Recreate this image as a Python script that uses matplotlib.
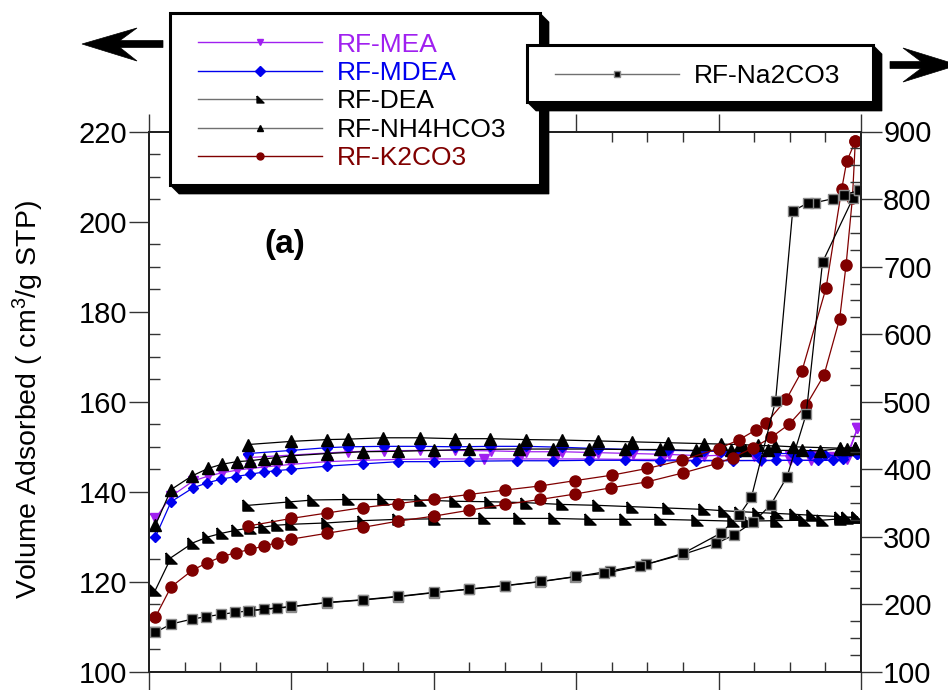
import matplotlib
matplotlib.use('Agg')
import matplotlib.pyplot as plt
from matplotlib.lines import Line2D
from matplotlib.patches import Polygon
from matplotlib.ticker import MultipleLocator

plt.rcParams['font.family'] = ['Liberation Sans', 'DejaVu Sans']
plt.rcParams['mathtext.fontset'] = 'custom'
plt.rcParams['mathtext.rm'] = 'Liberation Sans'
plt.rcParams['mathtext.it'] = 'Liberation Sans:italic'

# ---------------- data (relative pressure P/P0, volume adsorbed) ----------------
mea_ads_x = [0.009, 0.031, 0.062, 0.083, 0.102, 0.123, 0.142, 0.162, 0.180, 0.200, 0.25, 0.30, 0.35, 0.40,
             0.47, 0.52, 0.57, 0.62, 0.67, 0.72, 0.77, 0.82, 0.86, 0.90, 0.93, 0.96, 0.98, 0.995]
mea_ads_y = [134.1, 139.0, 142.4, 143.5, 144.2, 144.8, 145.2, 145.5, 145.8, 146.1, 146.7, 147.0, 147.2, 147.3,
             147.3, 147.3, 147.3, 147.3, 147.2, 147.2, 147.0, 147.0, 146.9, 147.0, 147.0, 147.1, 147.3, 154.1]
mea_des_x = [0.995, 0.98, 0.96, 0.93, 0.90, 0.85, 0.80, 0.78, 0.73, 0.68, 0.63, 0.58, 0.53, 0.48, 0.43,
             0.38, 0.33, 0.28, 0.139]
mea_des_y = [154.1, 148.0, 147.8, 147.9, 148.0, 148.0, 148.1, 148.0, 148.3, 148.5, 148.7, 148.9, 148.9, 149.1,
             149.2, 149.2, 149.1, 148.9, 147.6]

mdea_ads_x = [0.009, 0.031, 0.062, 0.082, 0.101, 0.122, 0.142, 0.161, 0.179, 0.199, 0.25, 0.30, 0.35, 0.40,
              0.449, 0.517, 0.568, 0.618, 0.668, 0.718, 0.768, 0.82, 0.86, 0.88, 0.91, 0.94, 0.96, 0.975, 0.995]
mdea_ads_y = [130.0, 137.8, 140.9, 142.0, 142.8, 143.4, 143.9, 144.4, 144.7, 145.0, 145.7, 146.2, 146.7, 146.7,
              146.8, 146.9, 146.9, 147.0, 147.0, 146.9, 146.9, 146.9, 147.0, 147.0, 147.0, 147.0, 147.0, 147.3, 148.5]
mdea_des_x = [0.995, 0.973, 0.95, 0.928, 0.905, 0.879, 0.853, 0.83, 0.804, 0.779, 0.729, 0.679, 0.63, 0.58,
              0.529, 0.479, 0.43, 0.38, 0.33, 0.28, 0.25, 0.20, 0.139]
mdea_des_y = [148.5, 147.9, 148.2, 148.4, 148.5, 148.5, 148.6, 148.9, 148.9, 149.1, 149.2, 149.4, 149.6, 149.9,
              150.1, 150.1, 150.0, 150.1, 150.1, 150.0, 149.8, 149.2, 148.5]

dea_ads_x = [0.009, 0.031, 0.062, 0.083, 0.102, 0.123, 0.142, 0.162, 0.180, 0.200, 0.25, 0.30, 0.35, 0.40,
             0.47, 0.519, 0.569, 0.619, 0.668, 0.718, 0.77, 0.82, 0.84, 0.88, 0.92, 0.945, 0.97, 0.98, 0.995]
dea_ads_y = [118.2, 125.4, 128.7, 130.0, 130.8, 131.5, 132.0, 132.2, 132.6, 132.8, 133.1, 133.6, 133.9, 134.0,
             134.1, 134.1, 134.1, 133.9, 133.9, 133.9, 133.7, 133.5, 133.5, 133.6, 133.7, 133.7, 134.0, 134.2, 134.4]
dea_des_x = [0.995, 0.98, 0.97, 0.931, 0.908, 0.882, 0.856, 0.83, 0.807, 0.779, 0.729, 0.679, 0.63, 0.58,
             0.529, 0.479, 0.43, 0.38, 0.329, 0.28, 0.231, 0.20, 0.139]
dea_des_y = [134.4, 134.4, 134.5, 134.8, 135.0, 135.2, 135.4, 135.6, 135.8, 136.1, 136.4, 136.7, 137.0, 137.2,
             137.6, 137.8, 137.9, 138.2, 138.3, 138.3, 138.2, 137.8, 137.0]

nh4_ads_x = [0.009, 0.031, 0.060, 0.083, 0.102, 0.123, 0.142, 0.162, 0.179, 0.200, 0.25, 0.30, 0.35, 0.40,
             0.449, 0.519, 0.568, 0.618, 0.668, 0.718, 0.768, 0.818, 0.837, 0.87, 0.917, 0.942, 0.97, 0.98, 0.992]
nh4_ads_y = [132.6, 140.5, 143.5, 145.2, 146.1, 146.7, 146.9, 147.3, 147.6, 148.0, 148.5, 148.9, 149.0, 149.2,
             149.4, 149.5, 149.5, 149.5, 149.4, 149.4, 149.2, 149.2, 149.2, 149.2, 149.2, 149.1, 149.6, 149.6, 149.8]
nh4_des_x = [0.992, 0.97, 0.905, 0.879, 0.856, 0.83, 0.804, 0.779, 0.729, 0.679, 0.63, 0.58, 0.529, 0.479,
             0.43, 0.38, 0.329, 0.28, 0.25, 0.20, 0.139]
nh4_des_y = [149.8, 149.7, 150.0, 150.2, 150.3, 150.5, 150.6, 150.7, 150.9, 151.1, 151.3, 151.5, 151.6, 151.8,
             151.8, 152.0, 152.0, 151.7, 151.6, 151.2, 150.5]

k2co3_ads_x = [0.009, 0.031, 0.061, 0.081, 0.102, 0.122, 0.142, 0.162, 0.180, 0.200, 0.25, 0.30, 0.35, 0.40,
               0.449, 0.50, 0.549, 0.598, 0.649, 0.699, 0.75, 0.798, 0.820, 0.849, 0.874, 0.899, 0.923, 0.948,
               0.970, 0.979, 0.988, 0.992]
k2co3_ads_y = [112.2, 118.9, 122.6, 124.2, 125.6, 126.5, 127.2, 128.0, 128.7, 129.5, 130.8, 132.1, 133.5, 134.6,
               135.9, 137.2, 138.3, 139.5, 140.9, 142.2, 144.2, 146.3, 147.6, 149.8, 152.1, 155.0, 159.2, 165.9,
               178.4, 190.3, 205.3, 217.8]
k2co3_des_x = [0.992, 0.980, 0.973, 0.951, 0.917, 0.895, 0.867, 0.853, 0.828, 0.80, 0.748, 0.70, 0.65, 0.599,
               0.549, 0.50, 0.449, 0.40, 0.35, 0.30, 0.25, 0.20, 0.139]
k2co3_des_y = [217.8, 213.4, 207.3, 185.3, 166.8, 160.5, 155.3, 153.8, 151.5, 149.6, 147.0, 145.2, 143.7, 142.5,
               141.3, 140.4, 139.4, 138.4, 137.4, 136.5, 135.3, 134.1, 132.4]

# RF-Na2CO3 is read on the right-hand axis
na2co3_ads_x = [0.009, 0.031, 0.061, 0.080, 0.101, 0.121, 0.142, 0.162, 0.180, 0.200, 0.25, 0.30, 0.35, 0.40,
                0.449, 0.50, 0.549, 0.599, 0.648, 0.698, 0.75, 0.797, 0.821, 0.849, 0.873, 0.896, 0.923, 0.946,
                0.989, 0.997]
na2co3_ads_y = [158.7, 171.0, 178.4, 181.8, 185.3, 188.2, 190.7, 192.7, 194.2, 196.6, 202.5, 206.5, 211.4, 217.3,
                222.3, 227.6, 233.5, 240.9, 249.8, 259.2, 274.0, 290.3, 302.6, 322.3, 347.0, 388.8, 481.5, 706.7,
                801.9, 812.7]
na2co3_des_x = [0.997, 0.976, 0.960, 0.935, 0.925, 0.904, 0.880, 0.846, 0.829, 0.804, 0.75, 0.69, 0.639, 0.60,
                0.55, 0.50, 0.45, 0.40, 0.35, 0.30, 0.25, 0.20, 0.139]
na2co3_des_y = [812.7, 806.3, 800.4, 794.6, 794.0, 782.1, 501.2, 358.3, 332.2, 306.0, 275.5, 256.7, 245.9, 241.5,
                234.0, 228.0, 222.8, 217.8, 212.0, 207.0, 203.0, 197.0, 190.7]

left_labels = ['RF-MEA', 'RF-MDEA', 'RF-DEA', 'RF-NH4HCO3', 'RF-K2CO3']
right_label = 'RF-Na2CO3'
left_ticks = [100, 120, 140, 160, 180, 200, 220]
right_ticks = [100, 200, 300, 400, 500, 600, 700, 800, 900]

# ---------------- styles ----------------
PURPLE = '#a020f0'
BLUE = '#0000ee'
MAROON = '#800000'
right_tri = [(-1, 1), (-1, -1), (1, -1), (-1, 1)]

styles = {
    'RF-MEA': dict(color=PURPLE, marker='v', ms=7.5, mfc=PURPLE, mec=PURPLE),
    'RF-MDEA': dict(color=BLUE, marker='D', ms=5.5, mfc=BLUE, mec=BLUE),
    'RF-DEA': dict(color='black', marker=right_tri, ms=8, mfc='black', mec='black'),
    'RF-NH4HCO3': dict(color='black', marker='^', ms=8, mfc='black', mec='black'),
    'RF-K2CO3': dict(color=MAROON, marker='o', ms=8, mfc=MAROON, mec=MAROON),
    'RF-Na2CO3': dict(color='black', marker='s', ms=7, mfc='black', mec='#8a8a8a', mew=1.0),
}
text_colors = [PURPLE, BLUE, 'black', 'black', MAROON]
legend_line_colors = [PURPLE, BLUE, '#707070', '#707070', MAROON]

W, H = 948, 690
fig = plt.figure(figsize=(W / 100, H / 100), dpi=100)


def fx(px):
    return px / W


def fy(py):
    return 1 - py / H


def fpts(pts):
    return [(fx(a), fy(b)) for a, b in pts]


ax = fig.add_axes([fx(149), fy(672), (861 - 149) / W, (672 - 131.5) / H])
ax2 = ax.twinx()

series = [
    ('RF-MEA', mea_ads_x, mea_ads_y, mea_des_x, mea_des_y),
    ('RF-MDEA', mdea_ads_x, mdea_ads_y, mdea_des_x, mdea_des_y),
    ('RF-DEA', dea_ads_x, dea_ads_y, dea_des_x, dea_des_y),
    ('RF-NH4HCO3', nh4_ads_x, nh4_ads_y, nh4_des_x, nh4_des_y),
    ('RF-K2CO3', k2co3_ads_x, k2co3_ads_y, k2co3_des_x, k2co3_des_y),
]
for name, ax_x, ax_y, de_x, de_y in series:
    st = styles[name]
    ax.plot(ax_x, ax_y, lw=0.9, **st)
    ax.plot(de_x, de_y, lw=0.9, **st)

st = styles['RF-Na2CO3']
ax2.plot(na2co3_ads_x, na2co3_ads_y, lw=0.9, **st)
ax2.plot(na2co3_des_x, na2co3_des_y, lw=0.9, **st)

ax.set_xlim(0, 1.0)
ax.set_ylim(100, 220)
ax2.set_ylim(100, 900)

TC = '#333333'
ax.xaxis.set_major_locator(MultipleLocator(0.2))
ax.xaxis.set_minor_locator(MultipleLocator(0.05))
ax.tick_params(axis='x', which='both', top=True, bottom=True, labelbottom=False, labeltop=False)
ax.tick_params(axis='x', which='major', direction='out', length=13, width=1, color=TC)
ax.tick_params(axis='x', which='minor', direction='in', length=7, width=1, color=TC)

ax.set_yticks(left_ticks)
ax.yaxis.set_minor_locator(MultipleLocator(5))
ax.tick_params(axis='y', which='both', left=True, right=False)
ax.tick_params(axis='y', which='major', direction='out', length=14.5, width=1, color=TC,
               labelsize=21, pad=1)
ax.tick_params(axis='y', which='minor', direction='in', length=8, width=1, color=TC)

ax2.set_yticks(right_ticks)
ax2.yaxis.set_minor_locator(MultipleLocator(25))
ax2.tick_params(axis='y', which='major', direction='out', length=15, width=1, color=TC,
                labelsize=21, pad=1)
ax2.tick_params(axis='y', which='minor', direction='in', length=8, width=1, color=TC)

for a in (ax, ax2):
    for sp in a.spines.values():
        sp.set_linewidth(1.4)
        sp.set_color('#222222')

ax.set_ylabel('Volume Adsorbed ( cm$^\\mathrm{3}$/g STP)', fontsize=20.5, va='center')
ax.yaxis.set_label_coords((28 - 149) / 712, (672 - 399.5) / 540.5)

fig.text(fx(285), fy(245), '(a)', fontsize=24, fontweight='bold', ha='center', va='center')

# ---------------- legends (custom shadowed boxes) ----------------
def shadow_box(x0, y0, x1, y1, off, z):
    sh = Polygon(fpts([(x1, y0), (x1 + off, y0 + off), (x1 + off, y1 + off), (x0 + off, y1 + off),
                       (x0, y1), (x1, y1)]), closed=True, transform=fig.transFigure,
                 facecolor='black', edgecolor='black', lw=0.5, zorder=z)
    fr = Polygon(fpts([(x0, y0), (x1, y0), (x1, y1), (x0, y1)]), closed=True, transform=fig.transFigure,
                 facecolor='white', edgecolor='black', lw=2.2, zorder=z + 0.5)
    fig.add_artist(sh)
    fig.add_artist(fr)


shadow_box(170, 13, 540, 185, 9, 10)
shadow_box(527, 45, 873, 102, 9, 20)

def proxy(name, lc):
    st = dict(styles[name])
    st['color'] = lc
    st['ms'] = 5
    return Line2D([], [], lw=1.0, **st)


h1 = [proxy(n, c) for n, c in zip(left_labels, legend_line_colors)]
leg1 = fig.legend(handles=h1, labels=left_labels, loc='upper left',
                  bbox_to_anchor=(fx(198), fy(32.5)), bbox_transform=fig.transFigure,
                  frameon=False, borderpad=0, borderaxespad=0, handlelength=4.68,
                  handletextpad=0.57, labelspacing=0.17, fontsize=19, numpoints=1)
for t, c in zip(leg1.get_texts(), text_colors):
    t.set_color(c)
leg1.set_zorder(12)

h2 = [proxy('RF-Na2CO3', '#707070')]
leg2 = fig.legend(handles=h2, labels=[right_label], loc='upper left',
                  bbox_to_anchor=(fx(555), fy(64.0)), bbox_transform=fig.transFigure,
                  frameon=False, borderpad=0, borderaxespad=0, handlelength=4.7,
                  handletextpad=0.57, fontsize=19, numpoints=1)
leg2.set_zorder(22)

# ---------------- arrows pointing at the axes ----------------
left_arrow = [(82, 44), (137, 28), (120, 40.5), (163, 40.5), (163, 47.5), (120, 47.5), (137, 61)]
right_arrow = [(958, 65), (903, 48), (921, 61.5), (890, 61.5), (890, 68.5), (921, 68.5), (903, 82)]
for pts in (left_arrow, right_arrow):
    fig.add_artist(Polygon(fpts(pts), closed=True, transform=fig.transFigure,
                           facecolor='black', edgecolor='black', lw=0.5, zorder=30))

fig.savefig('out.png', dpi=100)
